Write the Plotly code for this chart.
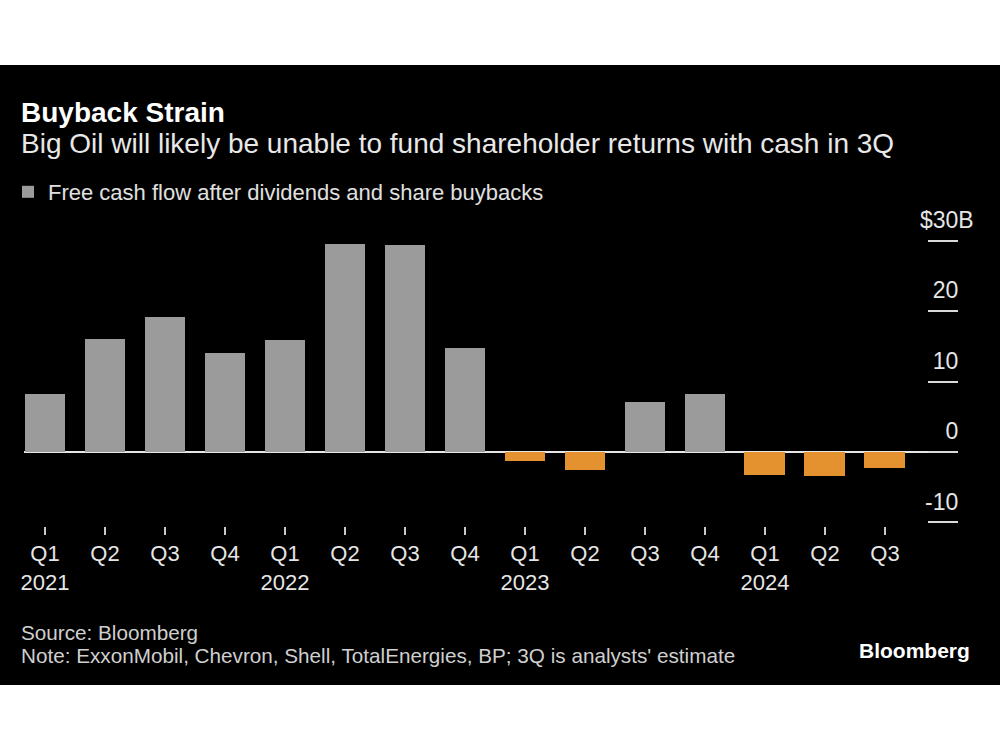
import plotly.graph_objects as go

# ---- data ----
quarters = ["Q1", "Q2", "Q3", "Q4", "Q1", "Q2", "Q3", "Q4",
            "Q1", "Q2", "Q3", "Q4", "Q1", "Q2", "Q3"]
year_labels = {0: "2021", 4: "2022", 8: "2023", 12: "2024"}
values = [8.3, 16.1, 19.2, 14.1, 15.9, 29.6, 29.4, 14.8,
          -1.2, -2.5, 7.1, 8.3, -3.2, -3.4, -2.3]
y_tickvals = [-10, 0, 10, 20, 30]
y_ticktext = ["-10", "0", "10", "20", "$30B"]

GRAY = "#9b9b9b"
ORANGE = "#e3922f"
FONT = "Liberation Sans, Arial, Helvetica, sans-serif"

# ---- layout geometry (pixels) ----
FW, FH = 1000, 750
L, R, T, B = 24, 42, 202, 224
W = FW - L - R
H = FH - T - B


def px_x(p):
    return (p - L) / W


def px_y(p):
    return (FH - B - p) / H


xs = list(range(len(values)))
ticktext = [q + ("<br>" + year_labels[i] if i in year_labels else "") for i, q in enumerate(quarters)]
colors = [GRAY if v >= 0 else ORANGE for v in values]

# pad plain numbers with an invisible "B" so digits line up and "$30B" hangs right
y_ticklabels = [t if t.endswith("B") else t + "<span style='color:rgba(0,0,0,0)'>B</span>"
                for t in y_ticktext]

fig = go.Figure()
fig.add_trace(go.Bar(
    x=xs, y=values, width=0.683,
    marker=dict(color=colors, line=dict(width=0)),
    name="Free cash flow after dividends and share buybacks",
    showlegend=True,
    hoverinfo="skip",
))

fig.update_layout(
    width=FW, height=FH,
    margin=dict(l=L, r=R, t=T, b=B, pad=0, autoexpand=False),
    paper_bgcolor="white",
    plot_bgcolor="black",
    font=dict(family=FONT, color="#e6e6e6"),
    bargap=0,
    showlegend=True,
    legend=dict(
        x=px_x(8), y=px_y(171), xanchor="left", yanchor="top",
        bgcolor="rgba(0,0,0,0)",
        font=dict(size=22, color="#e0e0e0", family=FONT),
        itemwidth=30,
    ),
    xaxis=dict(
        range=[-0.35, 15.217],
        tickvals=xs, ticktext=ticktext,
        ticks="outside", ticklen=8, tickwidth=1.5, tickcolor="#c8c8c8",
        tickfont=dict(size=22, color="#e6e6e6"),
        showgrid=False, zeroline=False, showline=False,
        fixedrange=True,
    ),
    yaxis=dict(
        side="right",
        range=[-10.5, 35.5],
        tickvals=y_tickvals, ticktext=y_ticklabels,
        ticks="inside", ticklen=30, tickwidth=2, tickcolor="#d9d9d9",
        ticklabelposition="inside",
        ticklabelshift=-21,
        ticklabelstandoff=-44,
        tickfont=dict(size=23, color="#e6e6e6"),
        showgrid=False, showline=False,
        zeroline=True, zerolinecolor="#e6e6e6", zerolinewidth=2,
        fixedrange=True,
    ),
)

# black panel behind the chart
fig.add_shape(type="rect", xref="paper", yref="paper",
              x0=px_x(0), x1=px_x(FW), y0=px_y(685), y1=px_y(65),
              fillcolor="black", line=dict(width=0), layer="below")

annots = [
    dict(text="<b>Buyback Strain</b>", x=px_x(19), y=px_y(112), size=28, color="#ffffff"),
    dict(text="Big Oil will likely be unable to fund shareholder returns with cash in 3Q",
         x=px_x(19), y=px_y(143), size=28, color="#e8e8e8"),
    dict(text="Source: Bloomberg", x=px_x(19), y=px_y(632), size=20.7, color="#cfcfcf"),
    dict(text="Note: ExxonMobil, Chevron, Shell, TotalEnergies, BP; 3Q is analysts' estimate",
         x=px_x(19), y=px_y(655), size=20.7, color="#cfcfcf"),
]
for a in annots:
    fig.add_annotation(text=a["text"], x=a["x"], y=a["y"], xref="paper", yref="paper",
                       xanchor="left", yanchor="middle", showarrow=False,
                       font=dict(size=a["size"], color=a["color"], family=FONT))
fig.add_annotation(text="<b>Bloomberg</b>", x=px_x(972), y=px_y(650), xref="paper", yref="paper",
                   xanchor="right", yanchor="middle", showarrow=False,
                   font=dict(size=21, color="#ffffff", family=FONT))

fig.write_html(
    "out.html",
    config={"displayModeBar": False},
    post_script="document.body.style.margin='0';document.body.style.overflow='hidden';",
)
